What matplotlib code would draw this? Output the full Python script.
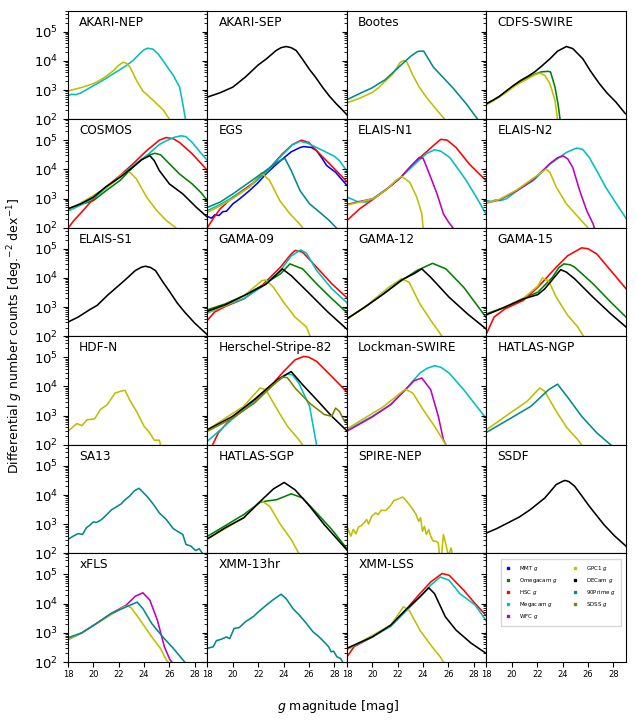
import matplotlib
matplotlib.use('Agg')
import matplotlib.pyplot as plt
from matplotlib.lines import Line2D

# ---------------- data (magnitude, differential counts) ----------------
AKARI_NEP = {
    'Megacam': ([18, 18.3, 18.6, 19, 19.5, 20, 20.5, 21, 21.5, 22, 22.6, 23.1, 23.6, 24.0, 24.3, 24.7, 25.1, 25.5, 25.9, 26.3, 26.8, 27.0, 27.3],
                [650, 720, 690, 790, 1050, 1410, 1860, 2500, 3470, 4680, 6900, 10000, 16600, 24000, 27000, 25000, 17400, 10000, 5600, 3200, 1260, 450, 80]),
    'GPC1': ([18, 19, 20, 20.5, 21, 21.6, 22.0, 22.35, 22.6, 22.9, 23.4, 23.9, 24.7, 25.5, 26.0, 26.3],
             [930, 1200, 1660, 2140, 2950, 4680, 7080, 8900, 8300, 6000, 2140, 930, 450, 210, 100, 63]),
}
AKARI_SEP = {
    'DECam': ([18, 19, 20, 21, 22, 22.65, 23.4, 23.8, 24.2, 24.6, 25.0, 25.5, 26.05, 26.5, 27.1, 27.6, 28.15, 28.5, 29],
              [575, 810, 1260, 2820, 7240, 11700, 22400, 28200, 30900, 28200, 22400, 11200, 5010, 2820, 1200, 630, 339, 240, 141]),
}
BOOTES = {
    'GPC1': ([18, 19, 20, 20.5, 21, 21.6, 22.2, 22.5, 22.7, 23.2, 23.7, 24.25, 25.0, 25.7, 26.0],
             [363, 525, 830, 1200, 2000, 3470, 8900, 10200, 9550, 3160, 1260, 575, 229, 100, 70]),
    '90Prime': ([18, 19, 20, 20.5, 21, 22.1, 23.0, 23.5, 23.7, 24.05, 24.8, 25.6, 26.4, 27.4, 28.3, 28.6],
                [468, 760, 1200, 1660, 2240, 6170, 14100, 20000, 21400, 21400, 6170, 2630, 1120, 339, 100, 65]),
}
CDFS_SWIRE = {
    'Omegacam': ([18, 18.5, 19, 19.5, 20.1, 20.7, 21.3, 21.8, 22.3, 22.85, 23.05, 23.4, 23.65, 23.8, 23.9],
                 [339, 437, 600, 850, 1320, 1910, 2690, 3470, 4170, 4370, 4170, 1260, 316, 100, 50]),
    'GPC1': ([18, 18.5, 19, 19.5, 20.1, 20.7, 21.3, 21.8, 22.2, 22.6, 23.0, 23.4, 23.6, 23.7],
             [316, 417, 575, 794, 1260, 1820, 2510, 3310, 3800, 3160, 1660, 447, 100, 50]),
    'DECam': ([18, 18.5, 19, 19.5, 20.1, 20.7, 21.3, 21.8, 22.3, 23.0, 23.6, 24.3, 24.8, 25.6, 26.2, 26.9, 27.5, 28.2, 28.95],
              [339, 447, 600, 890, 1410, 2140, 3020, 4170, 6310, 11700, 21400, 30900, 26300, 11700, 4470, 1660, 794, 389, 155]),
}
COSMOS = {
    'Omegacam': ([18, 19, 20, 21, 22.1, 23.1, 24.2, 24.85, 25.3, 25.75, 26.8, 27.8, 28.5, 29],
                 [447, 630, 850, 1860, 4170, 11700, 29500, 35500, 31600, 20000, 6920, 3160, 1580, 850]),
    'HSC': ([17.9, 18.5, 19, 20, 21, 22.1, 23.1, 24.2, 25.2, 25.75, 26.3, 26.8, 27.8, 29],
            [85, 186, 316, 977, 2450, 6170, 15100, 43700, 100000, 123000, 112000, 83000, 33900, 9120]),
    'Megacam': ([18, 19, 20, 21, 22.1, 23.1, 24.2, 25.2, 25.75, 26.4, 26.9, 27.3, 27.8, 28.4, 29],
                [372, 600, 1050, 2290, 5620, 13200, 29500, 71000, 95000, 126000, 141000, 132000, 83000, 39800, 20000]),
    'GPC1': ([18, 19, 20, 21, 21.6, 22.3, 22.75, 23.0, 23.4, 24.2, 25.0, 25.75, 26.5, 26.8],
             [407, 708, 1260, 2400, 3630, 7080, 8510, 7080, 4680, 1120, 389, 178, 100, 70]),
    'DECam': ([18, 19, 20, 21, 22.1, 23.1, 23.8, 24.45, 24.8, 25.2, 26.0, 27.05, 28.1, 29],
              [447, 660, 1120, 2570, 5370, 11700, 21400, 29500, 20000, 9120, 3160, 1450, 513, 229]),
}
EGS = {
    'MMT': ([18, 18.3, 18.6, 18.9, 19.2, 19.5, 20.0, 20.5, 21.3, 22.0, 22.6, 23.3, 23.9, 24.6, 25.3, 25.6, 26.2, 26.6, 27.0, 27.4, 28.1, 28.9, 29],
            [245, 214, 282, 263, 355, 372, 660, 955, 1860, 3550, 6920, 13200, 22400, 39800, 56200, 60300, 56200, 43700, 25100, 13500, 7940, 3160, 2820]),
    'HSC': ([17.95, 18.5, 19.0, 20.0, 21.3, 22.6, 23.9, 24.7, 25.4, 26.0, 26.6, 27.9, 28.9, 29],
            [95, 224, 447, 1120, 2750, 7940, 33900, 70800, 100000, 83000, 43700, 11700, 4170, 3800]),
    'Megacam': ([18, 19, 20, 21.3, 22.6, 23.9, 24.7, 25.3, 25.9, 26.6, 27.4, 28.0, 28.4, 28.9, 29],
                [389, 630, 1120, 2510, 7590, 31600, 69000, 91000, 79000, 56000, 38000, 28000, 20000, 10000, 8900]),
    'GPC1': ([18, 19, 20, 21.3, 22.25, 22.9, 23.7, 24.5, 25.3, 25.5, 25.7],
             [339, 562, 1000, 2450, 7590, 4170, 850, 302, 129, 100, 70]),
    '90Prime': ([18, 19, 20, 21.3, 22.6, 23.5, 24.1, 24.6, 25.3, 26.05, 26.85, 27.6, 28.15, 28.4],
                [500, 760, 1450, 3630, 9120, 17800, 24000, 9120, 1860, 660, 339, 178, 100, 70]),
}
ELAIS_N1 = {
    'HSC': ([18, 19, 20.1, 21.1, 22.2, 23.5, 24.8, 25.4, 25.9, 26.6, 27.65, 28.95, 29],
            [178, 447, 977, 2040, 5130, 20000, 64600, 107000, 100000, 56200, 15100, 4170, 4000]),
    'Megacam': ([18, 18.4, 18.8, 19.5, 20.1, 21.1, 22.2, 23.5, 24.3, 24.9, 25.4, 26.1, 26.7, 27.4, 28.2, 28.95, 29],
                [1120, 955, 794, 760, 1050, 2090, 5130, 17400, 35500, 46800, 41700, 25700, 11200, 4170, 1120, 302, 280]),
    'WFC': ([18, 19, 20.1, 21.1, 22.2, 23.0, 23.7, 24.0, 24.5, 25.1, 25.6, 26.0, 26.35, 26.5],
            [630, 794, 1000, 2040, 5130, 12600, 25700, 24000, 6920, 1450, 302, 158, 100, 80]),
    'GPC1': ([18, 19, 20.1, 21.1, 21.8, 22.3, 22.95, 23.5, 23.9, 24.0, 24.1],
             [600, 760, 1000, 2000, 3980, 5750, 3630, 1120, 302, 100, 63]),
}
ELAIS_N2 = {
    'Megacam': ([18, 18.4, 18.7, 19.1, 19.6, 20.4, 21.7, 23.0, 24.3, 25.1, 25.6, 26.1, 26.7, 27.4, 28.2, 28.95, 29],
                [850, 800, 900, 850, 1000, 1860, 4170, 15100, 38000, 53700, 47900, 25700, 8910, 2450, 708, 229, 210]),
    'WFC': ([18, 19, 20.4, 21.7, 23.0, 23.6, 24.05, 24.4, 24.8, 25.35, 25.9, 26.4, 26.5, 26.6],
            [708, 890, 1860, 4470, 15800, 25100, 28800, 22900, 11700, 1860, 389, 138, 100, 80]),
    'GPC1': ([18, 19, 20.4, 21.7, 22.7, 23.0, 23.5, 24.3, 25.35, 26.0, 26.2],
             [708, 930, 2000, 5010, 10200, 7940, 2450, 660, 204, 100, 70]),
}
ELAIS_S1 = {
    'DECam': ([18, 18.8, 19.7, 20.3, 21.1, 22.0, 22.6, 23.3, 23.8, 24.1, 24.5, 24.9, 25.5, 26.05, 26.6, 27.2, 28.0, 28.9, 29],
              [309, 457, 813, 1150, 2510, 5500, 9330, 17800, 23400, 25100, 22900, 17800, 7080, 3240, 1410, 676, 282, 123, 112]),
}
GAMA_09 = {
    'Omegacam': ([18, 19.4, 20.9, 22.3, 23.75, 24.5, 25.5, 26.6, 27.8, 28.95, 29],
                 [813, 1290, 2510, 5500, 13800, 30200, 20400, 6310, 1950, 676, 640]),
    'HSC': ([18, 18.55, 19.4, 20.9, 22.3, 23.75, 24.6, 24.9, 25.5, 26.6, 27.8, 28.95, 29],
            [355, 676, 1050, 1950, 5500, 23400, 66000, 87000, 76000, 23400, 6310, 2190, 2100]),
    'Megacam': ([18, 19.4, 20.9, 22.3, 23.75, 24.6, 25.35, 25.8, 26.6, 27.8, 28.95, 29],
                [630, 1120, 2000, 5010, 18200, 56200, 91000, 70800, 18200, 4270, 1480, 1400]),
    'GPC1': ([18, 19.4, 20.9, 22.3, 22.6, 23.2, 24.0, 24.9, 25.8, 26.1, 26.3],
             [676, 1120, 2510, 8130, 8510, 4790, 1480, 457, 209, 100, 70]),
    'DECam': ([18, 19.4, 20.9, 22.6, 23.5, 23.9, 24.6, 26.05, 27.5, 28.95, 29],
              [724, 1200, 2510, 6030, 13800, 20400, 12000, 2880, 676, 182, 175]),
}
GAMA_12 = {
    'Omegacam': ([18, 19.4, 20.9, 22.3, 23.5, 24.75, 25.8, 27.2, 28.95, 29],
                 [398, 1000, 2880, 8130, 17800, 31600, 20400, 4790, 457, 430]),
    'GPC1': ([18, 19.4, 21.3, 22.3, 22.9, 23.75, 24.6, 25.5, 25.7],
             [398, 1000, 4790, 9330, 7080, 1290, 355, 100, 70]),
    'DECam': ([18, 19.4, 20.9, 22.3, 23.3, 23.9, 24.6, 26.05, 27.5, 28.95, 29],
              [398, 1000, 2880, 8510, 14100, 20400, 10500, 2190, 589, 182, 175]),
}
GAMA_15 = {
    'Omegacam': ([18, 19.45, 20.9, 22.05, 23.2, 23.7, 24.1, 24.6, 24.95, 26.4, 27.8, 29],
                 [589, 1000, 2000, 3240, 10500, 22400, 30200, 28200, 23400, 6310, 1480, 457]),
    'HSC': ([18, 18.6, 19.45, 20.9, 22.05, 23.5, 24.4, 25.5, 26.0, 26.7, 27.8, 29],
            [123, 457, 871, 1700, 4790, 23400, 57500, 107000, 100000, 66000, 17800, 4270]),
    'GPC1': ([18, 19.45, 20.9, 22.05, 22.4, 22.9, 23.5, 24.4, 25.2, 25.65, 25.9],
             [550, 1000, 2000, 5250, 10000, 7940, 2190, 525, 209, 100, 70]),
    'DECam': ([18, 19.45, 20.9, 22.05, 22.6, 23.4, 23.85, 24.3, 24.95, 26.4, 27.8, 29],
              [550, 1000, 1910, 2690, 4270, 11200, 19100, 15800, 9330, 2190, 589, 209]),
}
HDF_N = {
    'GPC1': ([18, 18.7, 19.1, 19.5, 20.1, 20.55, 21.1, 21.7, 22.1, 22.5, 22.85, 23.4, 24.0, 24.45, 24.8, 25.2, 25.3, 25.4],
             [295, 537, 457, 724, 776, 1620, 2400, 5890, 6760, 7410, 3550, 1410, 437, 257, 145, 145, 100, 63]),
}
HERSCHEL_S82 = {
    'HSC': ([18.3, 18.4, 18.85, 20.0, 21.7, 23.2, 24.0, 24.9, 25.6, 26.0, 26.6, 27.8, 28.95, 29],
            [80, 100, 257, 955, 3550, 13200, 32400, 81300, 107000, 100000, 72400, 21900, 6760, 6500]),
    'Megacam': ([18, 18.85, 20.0, 21.7, 23.5, 24.3, 24.7, 25.2, 26.05, 26.6, 26.7],
                [135, 282, 794, 3090, 14800, 26900, 25000, 13200, 2090, 100, 63]),
    'GPC1': ([18, 20.85, 22.15, 22.6, 23.5, 24.3, 25.2, 25.5, 25.7],
             [331, 2090, 8910, 7760, 1620, 437, 151, 100, 70]),
    'DECam': ([18, 20.0, 21.7, 23.5, 24.6, 25.5, 26.6, 27.8, 28.95, 29],
              [331, 955, 3550, 17000, 32400, 11500, 3550, 955, 316, 300]),
    'SDSS': ([18, 20.0, 21.7, 23.2, 23.9, 24.3, 24.9, 26.05, 27.2, 27.8, 28.1, 28.4, 28.8, 29],
             [295, 832, 2690, 11500, 20900, 20000, 8910, 2690, 1100, 955, 1820, 1410, 646, 562]),
}
LOCKMAN_SWIRE = {
    'Megacam': ([18, 20.0, 21.45, 22.6, 23.75, 24.3, 24.9, 25.4, 26.05, 27.2, 28.95, 29],
                [316, 955, 2400, 7760, 28800, 41700, 51300, 45700, 28800, 7760, 832, 800]),
    'WFC': ([18, 20.0, 21.45, 22.6, 23.3, 23.9, 24.6, 25.2, 25.6, 25.8, 25.9],
            [295, 912, 2400, 7760, 15800, 19500, 7760, 955, 151, 100, 70]),
    'GPC1': ([18, 20.85, 22.6, 23.2, 24.0, 24.9, 25.8, 26.0],
             [355, 2000, 8130, 5890, 1620, 437, 100, 70]),
}
HATLAS_NGP = {
    'GPC1': ([18, 19.7, 21.2, 22.2, 22.6, 23.5, 24.35, 25.2, 25.5, 25.7],
             [331, 1100, 3090, 8910, 6760, 1410, 380, 151, 100, 70]),
    '90Prime': ([18, 19.7, 21.5, 22.9, 23.6, 24.35, 25.5, 26.7, 27.8, 28.0],
                [269, 724, 2090, 7760, 12000, 4570, 955, 257, 100, 80]),
}
SA13 = {
    '90Prime': ([18, 18.4, 18.8, 19.15, 19.45, 19.7, 20.0, 20.25, 20.65, 21.05, 21.45, 21.8, 22.2, 22.5, 22.85, 23.25, 23.6, 23.9, 24.3, 24.7, 25.2, 25.75, 26.3, 26.7, 27.05, 27.3, 27.7, 28.05, 28.35, 28.6, 28.7],
                [302, 389, 479, 447, 759, 912, 1200, 1150, 1450, 2140, 3160, 3890, 5010, 6920, 9120, 14100, 17000, 12600, 8320, 5010, 2450, 1450, 708, 550, 447, 204, 178, 126, 145, 100, 79]),
}
HATLAS_SGP = {
    'Omegacam': ([18, 19.4, 20.85, 22.15, 22.6, 23.45, 24.6, 25.5, 26.6, 27.8, 28.95, 29],
                 [389, 891, 2140, 5620, 6170, 6920, 11000, 7940, 2450, 661, 155, 145]),
    'GPC1': ([18, 20.85, 22.0, 22.3, 22.9, 23.75, 24.6, 25.2, 25.4],
             [316, 1660, 5370, 6170, 4170, 977, 302, 100, 70]),
    'DECam': ([18, 19.4, 20.85, 22.3, 23.2, 24.05, 24.9, 26.05, 27.2, 28.95, 29],
              [316, 759, 1660, 6920, 16200, 26900, 15100, 4170, 977, 138, 132]),
}
SPIRE_NEP = {
    'GPC1': ([18, 18.05, 18.3, 18.5, 18.7, 18.9, 19.15, 19.35, 19.55, 19.7, 19.95, 20.25, 20.45, 20.7, 21.05, 21.4, 21.7, 22.05, 22.4, 22.7, 22.95, 23.2, 23.45, 23.65, 23.8, 23.95, 24.1, 24.25, 24.45, 24.6, 24.8, 25.0, 25.2, 25.3, 25.45, 25.6, 25.8, 26.0, 26.2, 26.35],
             [700, 759, 389, 661, 468, 794, 912, 1120, 1450, 1020, 1860, 2450, 2140, 3020, 2950, 4170, 6460, 7410, 8510, 6170, 4470, 3160, 2140, 1260, 1660, 575, 851, 447, 661, 389, 263, 263, 229, 79, 79, 447, 204, 79, 155, 79]),
}
SSDF = {
    'DECam': ([18, 18.8, 19.7, 20.6, 21.45, 22.6, 23.5, 24.0, 24.2, 24.5, 24.95, 25.5, 26.1, 27.25, 28.1, 29],
              [501, 708, 1120, 1780, 3160, 7940, 22900, 29500, 31600, 28800, 20000, 9550, 4170, 977, 398, 178]),
}
XFLS = {
    'WFC': ([18, 19.1, 20.25, 21.4, 22.6, 23.3, 23.9, 24.45, 25.05, 25.6, 26.05, 26.2, 26.3],
            [589, 1000, 2090, 4570, 8910, 17800, 23400, 13200, 2690, 331, 117, 100, 70]),
    'GPC1': ([18, 19.1, 20.25, 21.7, 22.45, 22.75, 23.0, 23.7, 24.6, 25.3, 25.75, 25.9, 26.0],
             [589, 1000, 2090, 5010, 7940, 8130, 7080, 2690, 724, 288, 117, 100, 70]),
    '90Prime': ([18, 19.1, 20.25, 21.4, 22.6, 23.45, 23.9, 24.6, 25.45, 26.3, 27.2, 27.4],
                [676, 1000, 2090, 4570, 7760, 11200, 6760, 2090, 741, 295, 100, 70]),
}
XMM_13HR = {
    '90Prime': ([18, 18.45, 18.7, 19.1, 19.5, 19.75, 20.1, 20.5, 21.0, 21.6, 22.1, 22.65, 23.2, 23.8, 24.2, 24.75, 25.25, 25.8, 26.3, 26.8, 27.3, 27.55, 27.75, 27.95, 28.2, 28.5, 28.65, 28.75],
                [295, 331, 537, 603, 724, 631, 1410, 1510, 2400, 3550, 5620, 8910, 13800, 20900, 14800, 6610, 3980, 2090, 1100, 724, 437, 331, 224, 234, 151, 132, 100, 70]),
}
XMM_LSS = {
    'HSC': ([18, 18.55, 20.0, 21.45, 22.6, 23.75, 24.6, 25.5, 26.05, 27.2, 28.1, 28.95, 29],
            [151, 331, 724, 1820, 5890, 21900, 55000, 107000, 93300, 28800, 10000, 3980, 3720]),
    'Megacam': ([18, 20.0, 21.45, 22.6, 23.75, 24.6, 25.35, 26.05, 26.9, 28.1, 28.95, 29],
                [269, 724, 1660, 5250, 17000, 42700, 81300, 63100, 21900, 8910, 2690, 2510]),
    'GPC1': ([18, 21.45, 22.45, 22.9, 23.75, 24.6, 25.35, 25.6, 25.8],
             [269, 1820, 7760, 5890, 1230, 380, 151, 100, 70]),
    'DECam': ([18, 20.0, 21.45, 22.6, 23.75, 24.45, 24.9, 25.75, 26.6, 27.8, 28.95, 29],
              [295, 724, 1820, 5890, 17000, 34700, 21900, 3550, 1230, 437, 200, 190]),
}

FIELD_NAMES = ['AKARI-NEP', 'AKARI-SEP', 'Bootes', 'CDFS-SWIRE',
               'COSMOS', 'EGS', 'ELAIS-N1', 'ELAIS-N2',
               'ELAIS-S1', 'GAMA-09', 'GAMA-12', 'GAMA-15',
               'HDF-N', 'Herschel-Stripe-82', 'Lockman-SWIRE', 'HATLAS-NGP',
               'SA13', 'HATLAS-SGP', 'SPIRE-NEP', 'SSDF',
               'xFLS', 'XMM-13hr', 'XMM-LSS']
FIELD_DATA = [AKARI_NEP, AKARI_SEP, BOOTES, CDFS_SWIRE,
              COSMOS, EGS, ELAIS_N1, ELAIS_N2,
              ELAIS_S1, GAMA_09, GAMA_12, GAMA_15,
              HDF_N, HERSCHEL_S82, LOCKMAN_SWIRE, HATLAS_NGP,
              SA13, HATLAS_SGP, SPIRE_NEP, SSDF,
              XFLS, XMM_13HR, XMM_LSS]

BANDS = ['MMT', 'Omegacam', 'HSC', 'Megacam', 'WFC', 'GPC1', 'DECam', '90Prime', 'SDSS']
COLORS = {'MMT': '#0000ff', 'Omegacam': '#008000', 'HSC': '#ff0000', 'Megacam': '#00bfbf',
          'WFC': '#bf00bf', 'GPC1': '#bfbf00', 'DECam': '#000000', '90Prime': '#008b8b',
          'SDSS': '#808000'}
XTICKS = [18, 20, 22, 24, 26, 28]

# ---------------- figure ----------------
fig, axes = plt.subplots(6, 4, figsize=(6.37, 7.22), dpi=100, sharex=True, sharey=True)
fig.subplots_adjust(left=68/637, right=626/637, top=1-10.7/722, bottom=1-662/722,
                    wspace=0, hspace=0)

for ax in axes.flat:
    ax.set_yscale('log')
ax0 = axes[0, 0]
ax0.set_xlim(18, 29)
ax0.set_ylim(100, 5.2e5)
ax0.set_xticks(XTICKS)
ax0.set_yticks([1e2, 1e3, 1e4, 1e5])

for ax, name, data in zip(axes.flat, FIELD_NAMES, FIELD_DATA):
    for band in BANDS:
        if band in data:
            m, n = data[band]
            ax.plot(m, n, color=COLORS[band], lw=1.15)
    ax.text(0.08, 0.955, name, transform=ax.transAxes, ha='left', va='top', fontsize=8.7)

for ax in axes.flat:
    ax.tick_params(axis='y', which='major', labelsize=9.5, length=3.5)
    ax.tick_params(axis='y', which='minor', length=2)
    ax.tick_params(axis='x', which='major', labelsize=6, length=3.5, pad=2.5)

# legend panel
lax = axes[5, 3]
handles = [Line2D([], [], ls='none', marker='s', markersize=1.6, color=COLORS[b],
                  label=f'{b} $g$') for b in BANDS]
lax.legend(handles=handles, ncol=2, loc='upper left', bbox_to_anchor=(0.085, 0.975),
           fontsize=4.0, labelspacing=0.55, columnspacing=2.8, handletextpad=1.5,
           handlelength=0.8, borderpad=0.9, frameon=True, fancybox=False)

fig.text(0.024, 0.535, 'Differential $g$ number counts [deg.$^{-2}$ dex$^{-1}$]',
         rotation=90, ha='center', va='center', fontsize=9)
fig.text(0.53, 0.021, '$g$ magnitude [mag]', ha='center', va='center', fontsize=9)

fig.savefig('out.png', dpi=100)
